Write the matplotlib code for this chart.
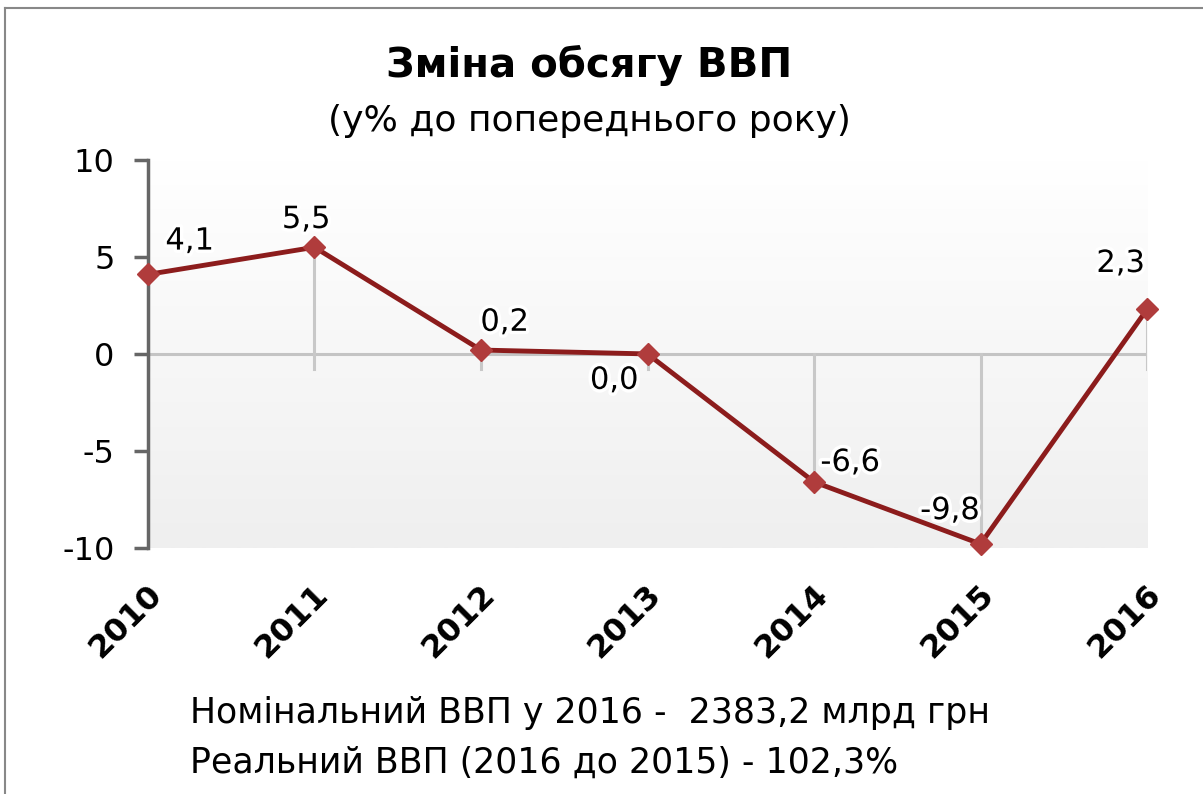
import numpy as np
import matplotlib.pyplot as plt
import matplotlib.patheffects as pe
from matplotlib.colors import LinearSegmentedColormap

# data
years = ['2010', '2011', '2012', '2013', '2014', '2015', '2016']
gdp_change = [4.1, 5.5, 0.2, 0.0, -6.6, -9.8, 2.3]
label_text = ['4,1', '5,5', '0,2', '0,0', '-6,6', '-9,8', '2,3']
# label offsets (points) relative to each marker
label_offsets = [(30, 24), (-6, 20), (17, 20), (-24, -19), (26, 14), (-22, 24), (-19, 33)]

title = 'Зміна обсягу ВВП'
subtitle = '(у% до попереднього року)'
note1 = 'Номінальний ВВП у 2016 -  2383,2 млрд грн'
note2 = 'Реальний ВВП (2016 до 2015) - 102,3%'

fig = plt.figure(figsize=(12.03, 7.94), dpi=100)
ax = fig.add_axes([0.123, 0.31, 0.8305, 0.4885])

x = np.arange(len(years))

# gradient plot background
grad = np.linspace(1.0, 0.0, 256).reshape(-1, 1)
bg = LinearSegmentedColormap.from_list('bg', ['#efefef', '#ffffff'])
ax.imshow(grad, extent=[0, 6, -10, 10], aspect='auto', cmap=bg, vmin=0, vmax=1,
          zorder=0, origin='upper')

# zero axis and drop lines
ax.axhline(0, color='#c4c4c4', lw=2.2, zorder=1)
for xi, v in zip(x, gdp_change):
    ax.plot([xi, xi], [min(v, -0.8), max(v, 0)], color='#c8c8c8', lw=2.2, zorder=1)

ax.plot(x, gdp_change, color='#8c1c1c', lw=3.5, marker='D', markersize=11,
        markerfacecolor='#b03c3c', markeredgecolor='#b03c3c', zorder=3, clip_on=False)

for xi, v, t, off in zip(x, gdp_change, label_text, label_offsets):
    ax.annotate(t, (xi, v), xytext=off, textcoords='offset points', ha='center', va='center',
                fontsize=22, color='black', zorder=4,
                path_effects=[pe.withStroke(linewidth=5, foreground='white')])

ax.set_xlim(0, 6)
ax.set_ylim(-10, 10)
ax.set_yticks([-10, -5, 0, 5, 10])
ax.set_yticklabels(['-10', '-5', '0', '5', '10'], fontsize=23)
ax.set_xticks([])
for s in ['top', 'right', 'bottom']:
    ax.spines[s].set_visible(False)
ax.spines['left'].set_color('#666666')
ax.spines['left'].set_linewidth(2.5)
ax.tick_params(axis='y', length=10, width=2.5, color='#666666', pad=14)

for xi, yr in zip(x, years):
    ax.text(xi - 0.01, -11.6, yr, rotation=45, ha='right', va='top', fontsize=23,
            fontweight='semibold', rotation_mode='anchor', transform=ax.transData)

fig.text(0.49, 0.918, title, ha='center', va='center', fontsize=29, fontweight='bold')
fig.text(0.49, 0.848, subtitle, ha='center', va='center', fontsize=26)
fig.text(0.158, 0.102, note1, ha='left', va='center', fontsize=25)
fig.text(0.158, 0.039, note2, ha='left', va='center', fontsize=25)

# outer frame (left and top edges)
fig.add_artist(plt.Line2D([0.004, 0.004], [0, 0.99], color='#888888', lw=1.5))
fig.add_artist(plt.Line2D([0.004, 1.0], [0.99, 0.99], color='#888888', lw=1.5))

fig.savefig('out.png', dpi=100)
